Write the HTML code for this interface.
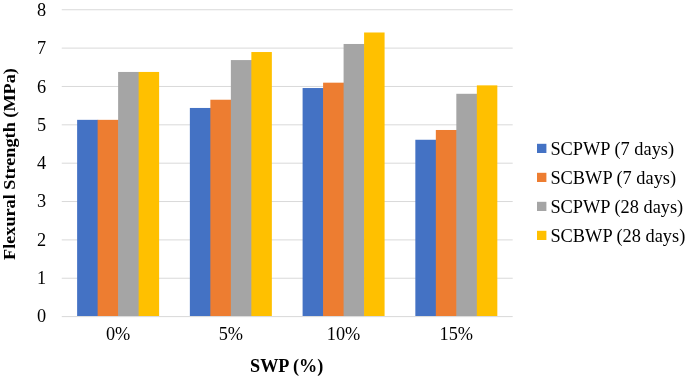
<!DOCTYPE html>
<html><head><meta charset="utf-8"><style>
html,body{margin:0;padding:0;background:#fff;width:685px;height:378px;overflow:hidden}
svg{display:block;will-change:transform}
.t{font-family:"Liberation Serif",serif;font-size:18.3px;fill:#000}
.l{font-family:"Liberation Serif",serif;font-size:18.35px;fill:#000}
.b{font-family:"Liberation Serif",serif;font-size:18.2px;font-weight:bold;fill:#000}
</style></head><body>
<svg width="685" height="378" viewBox="0 0 685 378">
<rect x="61.75" y="277.74" width="450.95" height="1" fill="#D9D9D9"/>
<rect x="61.75" y="239.39" width="450.95" height="1" fill="#D9D9D9"/>
<rect x="61.75" y="201.03" width="450.95" height="1" fill="#D9D9D9"/>
<rect x="61.75" y="162.68" width="450.95" height="1" fill="#D9D9D9"/>
<rect x="61.75" y="124.32" width="450.95" height="1" fill="#D9D9D9"/>
<rect x="61.75" y="85.96" width="450.95" height="1" fill="#D9D9D9"/>
<rect x="61.75" y="47.61" width="450.95" height="1" fill="#D9D9D9"/>
<rect x="61.75" y="9.25" width="450.95" height="1" fill="#D9D9D9"/>
<rect x="61.75" y="316.10" width="450.95" height="1" fill="#D9D9D9"/>
<rect x="77.12" y="119.84" width="21.10" height="196.16" fill="#4472C4"/>
<rect x="97.62" y="119.84" width="21.10" height="196.16" fill="#ED7D31"/>
<rect x="118.12" y="71.95" width="21.10" height="244.05" fill="#A5A5A5"/>
<rect x="138.62" y="71.95" width="20.50" height="244.05" fill="#FFC000"/>
<rect x="189.86" y="107.96" width="21.10" height="208.04" fill="#4472C4"/>
<rect x="210.36" y="99.73" width="21.10" height="216.27" fill="#ED7D31"/>
<rect x="230.86" y="60.07" width="21.10" height="255.93" fill="#A5A5A5"/>
<rect x="251.35" y="52.03" width="20.50" height="263.97" fill="#FFC000"/>
<rect x="302.60" y="88.04" width="21.10" height="227.96" fill="#4472C4"/>
<rect x="323.10" y="82.68" width="21.10" height="233.32" fill="#ED7D31"/>
<rect x="343.59" y="43.98" width="21.10" height="272.02" fill="#A5A5A5"/>
<rect x="364.09" y="32.49" width="20.50" height="283.51" fill="#FFC000"/>
<rect x="415.34" y="139.76" width="21.10" height="176.24" fill="#4472C4"/>
<rect x="435.83" y="129.99" width="21.10" height="186.01" fill="#ED7D31"/>
<rect x="456.33" y="93.79" width="21.10" height="222.21" fill="#A5A5A5"/>
<rect x="476.83" y="85.36" width="20.50" height="230.64" fill="#FFC000"/>
<text x="46.2" y="322.40" text-anchor="end" class="t">0</text>
<text x="46.2" y="284.09" text-anchor="end" class="t">1</text>
<text x="46.2" y="245.78" text-anchor="end" class="t">2</text>
<text x="46.2" y="207.46" text-anchor="end" class="t">3</text>
<text x="46.2" y="169.15" text-anchor="end" class="t">4</text>
<text x="46.2" y="130.84" text-anchor="end" class="t">5</text>
<text x="46.2" y="92.53" text-anchor="end" class="t">6</text>
<text x="46.2" y="54.21" text-anchor="end" class="t">7</text>
<text x="46.2" y="15.90" text-anchor="end" class="t">8</text>
<text x="118.12" y="339.7" text-anchor="middle" class="t">0%</text>
<text x="230.86" y="339.7" text-anchor="middle" class="t">5%</text>
<text x="343.59" y="339.7" text-anchor="middle" class="t">10%</text>
<text x="456.33" y="339.7" text-anchor="middle" class="t">15%</text>
<text x="286.7" y="372.4" text-anchor="middle" class="b">SWP (%)</text>
<text transform="translate(15.1,164.05) rotate(-90) scale(1.035,1)" x="0" y="0" text-anchor="middle" class="b" style="font-size:17.6px">Flexural Strength (MPa)</text>
<rect x="537" y="143.80" width="9.4" height="9.2" fill="#4472C4"/>
<text x="550.4" y="154.50" class="l">SCPWP (7 days)</text>
<rect x="537" y="172.80" width="9.4" height="9.2" fill="#ED7D31"/>
<text x="550.4" y="183.50" class="l">SCBWP (7 days)</text>
<rect x="537" y="201.80" width="9.4" height="9.2" fill="#A5A5A5"/>
<text x="550.4" y="212.50" class="l">SCPWP (28 days)</text>
<rect x="537" y="230.80" width="9.4" height="9.2" fill="#FFC000"/>
<text x="550.4" y="241.50" class="l">SCBWP (28 days)</text>
</svg>
</body></html>
